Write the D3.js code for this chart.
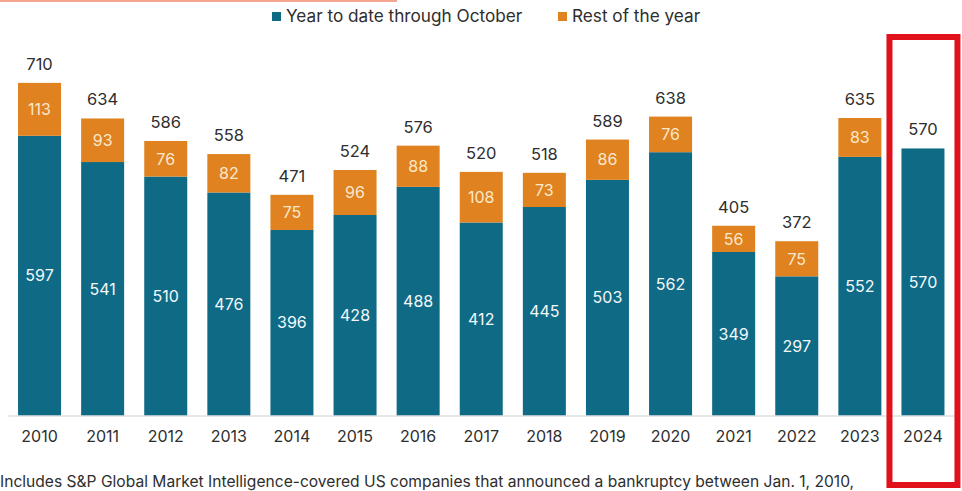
<!DOCTYPE html>
<html>
<head>
<meta charset="utf-8">
<script src="https://cdn.jsdelivr.net/npm/d3@7"></script>
<style>
  html, body { margin: 0; padding: 0; background: #ffffff; }
  svg { display: block; font-family: Inter, "Open Sans", sans-serif; }
</style>
</head>
<body>
<svg id="chart" width="962" height="491"></svg>
<script>
// Bankruptcies per year, split into year-to-date (through October) and the rest of the year
const years = ["2010","2011","2012","2013","2014","2015","2016","2017","2018","2019","2020","2021","2022","2023","2024"];
const ytdValues = [597, 541, 510, 476, 396, 428, 488, 412, 445, 503, 562, 349, 297, 552, 570];
const restValues = [113, 93, 76, 82, 75, 96, 88, 108, 73, 86, 76, 56, 75, 83, 0];
const seriesNames = ["Year to date through October", "Rest of the year"];
const footnote = "Includes S&P Global Market Intelligence-covered US companies that announced a bankruptcy between Jan. 1, 2010,";

const TEAL = "#0f6a86";
const ORANGE = "#df821f";
const INK = "#2e2e2e";

const svg = d3.select("#chart");

const rows = years.map((y, i) => ({ year: y, ytd: ytdValues[i], rest: restValues[i] }));
const stacked = d3.stack().keys(["ytd", "rest"])(rows);

const x = d3.scaleBand().domain(years).range([8, 954.5]).paddingInner(0.3185).paddingOuter(0.159);
const y = d3.scaleLinear().domain([0, 800]).range([415.5, 40.7]);

// thin accent rule along the top edge
svg.append("rect").attr("x", 0).attr("y", 0).attr("width", 397).attr("height", 2).attr("fill", "#f3a591");

// stacked bars
const colors = { ytd: TEAL, rest: ORANGE };
stacked.forEach(layer => {
  const g = svg.append("g");
  g.selectAll("rect")
    .data(layer.filter(d => d[1] > d[0]))
    .join("rect")
    .attr("x", d => x(d.data.year))
    .attr("width", x.bandwidth())
    .attr("y", d => y(d[1]))
    .attr("height", d => y(d[0]) - y(d[1]))
    .attr("fill", colors[layer.key]);
  g.selectAll("text")
    .data(layer.filter(d => d[1] > d[0]))
    .join("text")
    .attr("x", d => x(d.data.year) + x.bandwidth() / 2)
    .attr("y", d => (y(d[0]) + y(d[1])) / 2)
    .attr("dy", "0.36em")
    .attr("text-anchor", "middle")
    .attr("font-size", 16)
    .attr("fill", layer.key === "ytd" ? "#f4f8fa" : "#fbe8cc")
    .text(d => d[1] - d[0]);
});

// totals above each bar
svg.append("g").selectAll("text")
  .data(rows)
  .join("text")
  .attr("x", d => x(d.year) + x.bandwidth() / 2)
  .attr("y", d => y(d.ytd + d.rest) - 13)
  .attr("text-anchor", "middle")
  .attr("font-size", 16.5)
  .attr("fill", INK)
  .text(d => d.ytd + d.rest);

// category axis
const axis = svg.append("g")
  .attr("transform", `translate(0,${y(0)})`)
  .call(d3.axisBottom(x).tickSize(0).tickPadding(15));
axis.select(".domain").attr("stroke", "#cfcfcf").attr("stroke-width", 1.2);
axis.selectAll("text").attr("font-size", 16).attr("fill", INK).attr("font-family", "Inter, sans-serif");

// legend
const legend = svg.append("g");
const legendItems = [
  { name: seriesNames[0], color: TEAL, x: 272 },
  { name: seriesNames[1], color: ORANGE, x: 558 }
];
legendItems.forEach(it => {
  legend.append("rect").attr("x", it.x).attr("y", 12).attr("width", 9).attr("height", 9).attr("fill", it.color);
  legend.append("text").attr("x", it.x + 14).attr("y", 22).attr("font-size", 17.2).attr("fill", INK).text(it.name);
});

// highlight frame around the current year
const last = years[years.length - 1];
svg.append("rect")
  .attr("x", x(last) - 12).attr("y", 37)
  .attr("width", 68).attr("height", 448)
  .attr("fill", "none").attr("stroke", "#e0111b").attr("stroke-width", 6);

// footnote
svg.append("text").attr("x", 0).attr("y", 486.5).attr("font-size", 15.6).attr("fill", INK).text(footnote);
</script>
</body>
</html>
